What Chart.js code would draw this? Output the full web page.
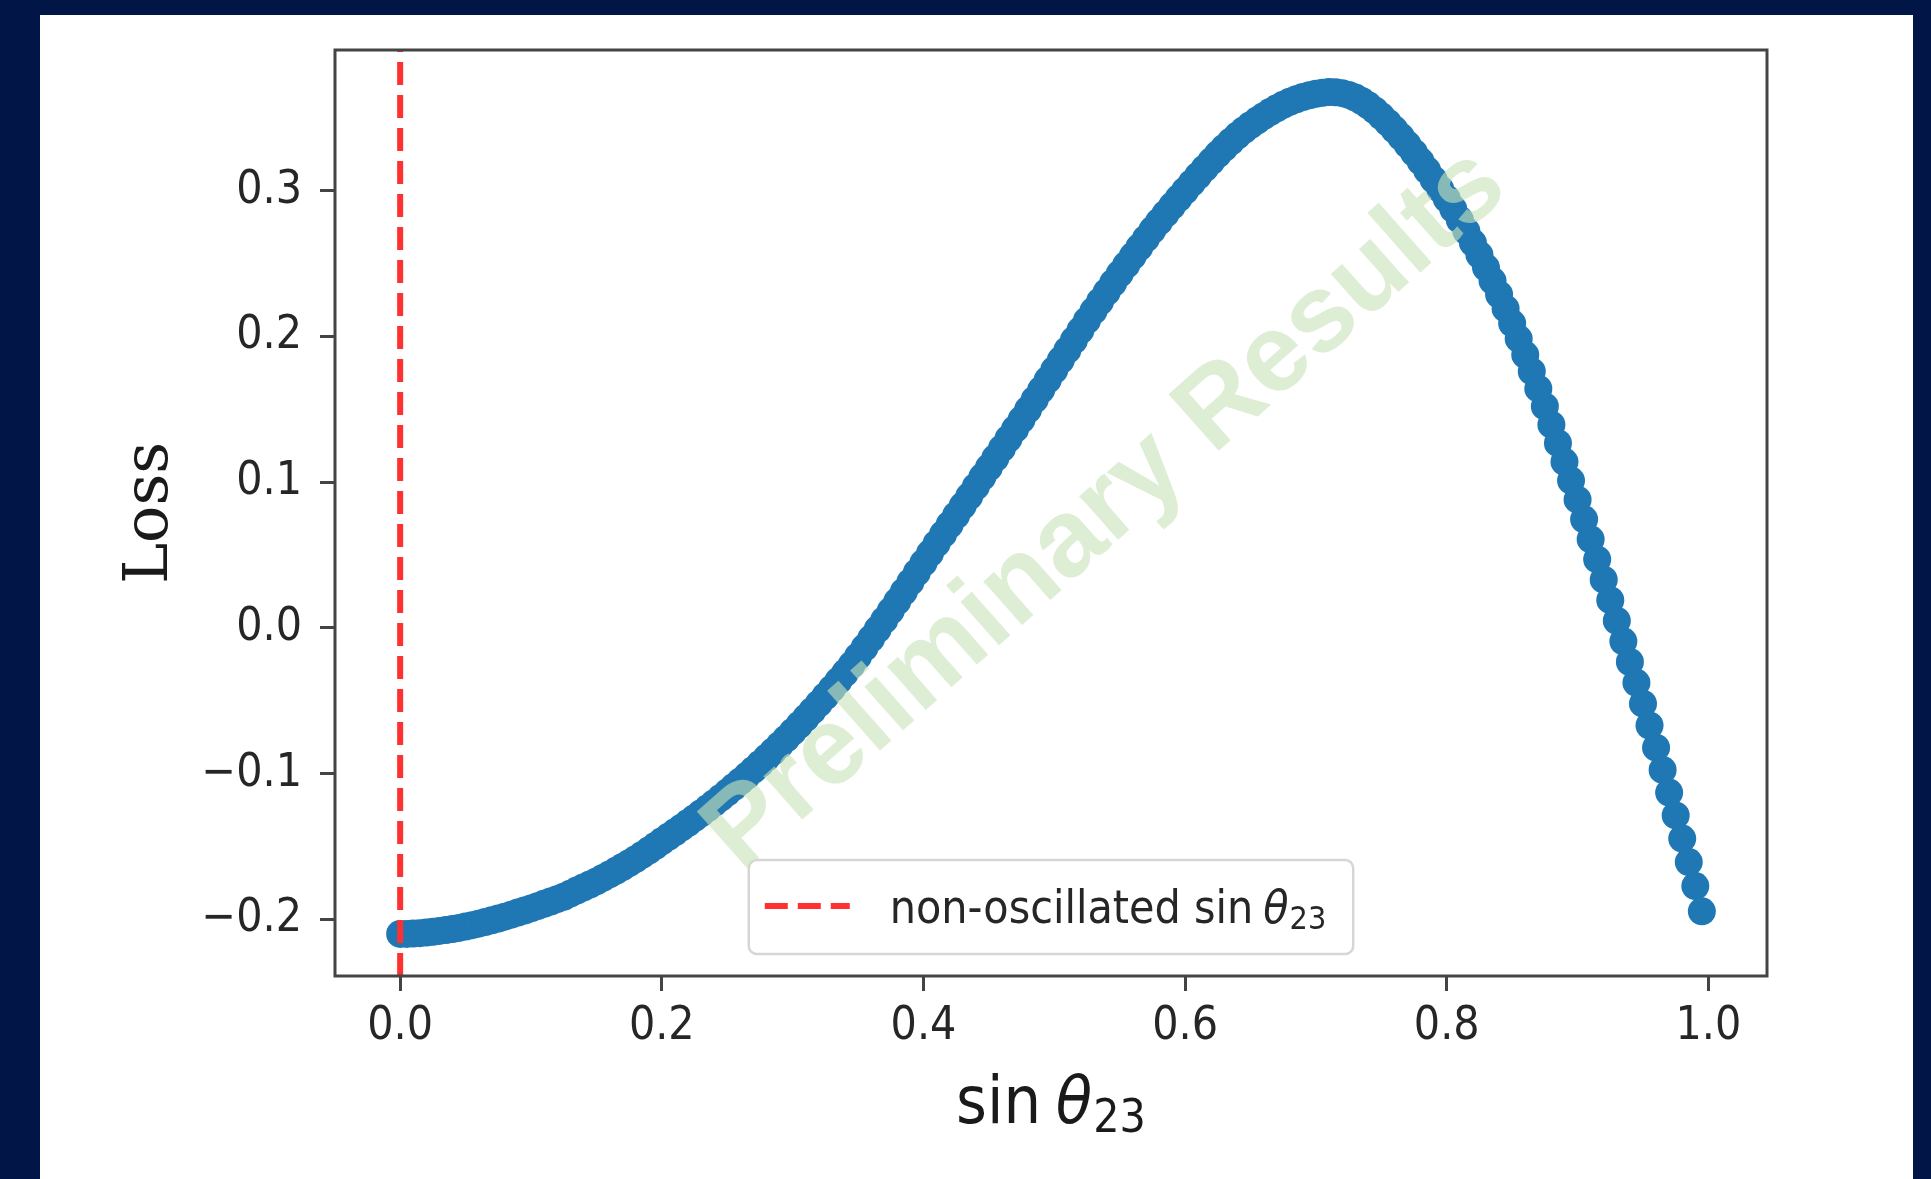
<!DOCTYPE html>
<html>
<head>
<meta charset="utf-8">
<title>Loss vs sin θ23</title>
<script src="https://cdn.jsdelivr.net/npm/chart.js@4.4.1/dist/chart.umd.min.js"></script>
<style>
    html, body { margin: 0; padding: 0; width: 1931px; height: 1179px; overflow: hidden; background: #021547; }
    #panel { position: absolute; left: 40px; top: 15px; width: 1873px; height: 1164px; background: #ffffff; }
</style>
</head>
<body>
<div id="panel"><canvas id="lossChart" width="1873" height="1164"></canvas></div>
<script>
// sampling grid of sin(theta23): 0.000, 0.005, ... 0.995
const sinStart = 0;
const sinStep = 0.005;

// loss at each grid point, 10 per row
const lossValues = [
    -0.2100, -0.2100, -0.2098, -0.2095, -0.2091, -0.2086, -0.2080, -0.2074, -0.2067, -0.2059,
    -0.2050, -0.2040, -0.2030, -0.2019, -0.2007, -0.1995, -0.1982, -0.1968, -0.1954, -0.1940,
    -0.1925, -0.1910, -0.1894, -0.1878, -0.1862, -0.1845, -0.1824, -0.1803, -0.1782, -0.1761,
    -0.1740, -0.1716, -0.1692, -0.1667, -0.1641, -0.1615, -0.1587, -0.1558, -0.1528, -0.1497,
    -0.1465, -0.1434, -0.1403, -0.1371, -0.1339, -0.1306, -0.1272, -0.1238, -0.1203, -0.1167,
    -0.1130, -0.1092, -0.1054, -0.1015, -0.0975, -0.0934, -0.0892, -0.0849, -0.0805, -0.0760,
    -0.0714, -0.0667, -0.0619, -0.0570, -0.0520, -0.0469, -0.0417, -0.0364, -0.0310, -0.0255,
    -0.0196, -0.0135, -0.0073, -0.0010, 0.0053, 0.0117, 0.0182, 0.0248, 0.0314, 0.0380,
    0.0446, 0.0512, 0.0578, 0.0643, 0.0708, 0.0773, 0.0838, 0.0903, 0.0969, 0.1035,
    0.1100, 0.1166, 0.1232, 0.1298, 0.1364, 0.1430, 0.1498, 0.1566, 0.1634, 0.1702,
    0.1770, 0.1838, 0.1906, 0.1974, 0.2042, 0.2110, 0.2175, 0.2240, 0.2304, 0.2367,
    0.2430, 0.2491, 0.2552, 0.2612, 0.2671, 0.2730, 0.2786, 0.2841, 0.2895, 0.2948,
    0.3000, 0.3052, 0.3103, 0.3153, 0.3202, 0.3250, 0.3295, 0.3338, 0.3379, 0.3416,
    0.3450, 0.3482, 0.3512, 0.3540, 0.3566, 0.3590, 0.3610, 0.3628, 0.3643, 0.3655,
    0.3665, 0.3672, 0.3677, 0.3676, 0.3670, 0.3658, 0.3640, 0.3616, 0.3586, 0.3551,
    0.3511, 0.3467, 0.3420, 0.3370, 0.3317, 0.3261, 0.3202, 0.3140, 0.3076, 0.3011,
    0.2945, 0.2874, 0.2800, 0.2723, 0.2643, 0.2560, 0.2473, 0.2382, 0.2288, 0.2191,
    0.2090, 0.1984, 0.1874, 0.1760, 0.1642, 0.1520, 0.1395, 0.1268, 0.1140, 0.1011,
    0.0880, 0.0745, 0.0608, 0.0470, 0.0331, 0.0190, 0.0049, -0.0092, -0.0234, -0.0377,
    -0.0520, -0.0670, -0.0822, -0.0975, -0.1130, -0.1287, -0.1446, -0.1607, -0.1772, -0.1945
];

// non-oscillated value of sin(theta23)
const nonOscSin = 0;

const xTicks = [0.0, 0.2, 0.4, 0.6, 0.8, 1.0];
const yTicks = [-0.2, -0.1, 0.0, 0.1, 0.2, 0.3];
const xLimits = [-0.0498, 1.0448];
const yLimits = [-0.2389, 0.3966];

const legendLabel = 'non-oscillated ';
const watermarkText = 'Preliminary Results';

const sansFamily = "'DejaVu Sans Condensed', 'DejaVu Sans', sans-serif";
const textColor = '#262626';
const frameColor = '#444444';

let _points = new Array();
lossValues.forEach(function (loss, i) {
    _points.push({ x: +(sinStart + i * sinStep).toFixed(3), y: loss });
});

function formatTick(value) {
    return value.toFixed(1).replace('-', '\u2212');
}

// "sin θ_23" as three pieces: upright, italic, subscript
function mathParts(size) {
    return [
        { text: 'sin', font: size + 'px ' + sansFamily, gap: 0, shift: 0 },
        { text: '\u03b8', font: 'italic ' + size + 'px ' + sansFamily, gap: 0.22 * size, shift: 0 },
        { text: '23', font: Math.round(size * 0.7) + 'px ' + sansFamily, gap: 0.02 * size, shift: 0.14 * size }
    ];
}

function measureParts(ctx, parts) {
    let w = 0;
    parts.forEach(function (p) {
        ctx.font = p.font;
        w += p.gap + ctx.measureText(p.text).width;
    });
    return w;
}

function drawParts(ctx, parts, x, y) {
    parts.forEach(function (p) {
        ctx.font = p.font;
        x += p.gap;
        ctx.fillText(p.text, x, y + p.shift);
        x += ctx.measureText(p.text).width;
    });
}

// keep the plot box where the layout puts it, without label overhang
function fixAxis(size) {
    return function (scale) {
        if (scale.isHorizontal()) {
            scale.height = size;
        } else {
            scale.width = size;
        }
        scale.paddingTop = 0;
        scale.paddingBottom = 0;
        scale.paddingLeft = 0;
        scale.paddingRight = 0;
    };
}

const framePlugin = {
    id: 'frame',
    afterDatasetsDraw(chart) {
        const { ctx, chartArea: a, scales } = chart;
        ctx.save();
        // vertical dashed marker at the non-oscillated value
        const px = scales.x.getPixelForValue(nonOscSin);
        ctx.strokeStyle = '#ff3030';
        ctx.lineWidth = 6;
        ctx.setLineDash([23, 10]);
        ctx.beginPath();
        ctx.moveTo(px, a.bottom);
        ctx.lineTo(px, a.top);
        ctx.stroke();
        // axes box
        ctx.setLineDash([]);
        ctx.strokeStyle = frameColor;
        ctx.lineWidth = 3;
        ctx.strokeRect(a.left, a.top, a.right - a.left, a.bottom - a.top);
        ctx.restore();
    }
};

const labelsPlugin = {
    id: 'labels',
    afterDraw(chart) {
        const { ctx, chartArea: a } = chart;
        const cx = (a.left + a.right) / 2;
        ctx.save();
        ctx.fillStyle = '#1a1a1a';
        ctx.textBaseline = 'alphabetic';
        ctx.textAlign = 'left';

        // x axis label
        const titleParts = mathParts(66);
        const tw = measureParts(ctx, titleParts);
        drawParts(ctx, titleParts, cx - tw / 2, a.bottom + 147);

        // legend box, lower centre
        const legParts = mathParts(46);
        ctx.font = '46px ' + sansFamily;
        const lw = ctx.measureText(legendLabel).width + measureParts(ctx, legParts);
        const boxW = 16 + 85 + 40 + lw + 27;
        const boxH = 94;
        const bx = cx - boxW / 2;
        const by = a.bottom - 22 - boxH;
        ctx.beginPath();
        ctx.roundRect(bx, by, boxW, boxH, 8);
        ctx.fillStyle = 'rgba(255,255,255,0.8)';
        ctx.fill();
        ctx.strokeStyle = '#d6d6d6';
        ctx.lineWidth = 2.5;
        ctx.stroke();

        ctx.strokeStyle = '#ff3030';
        ctx.lineWidth = 6;
        ctx.setLineDash([23, 10]);
        ctx.beginPath();
        ctx.moveTo(bx + 16, by + 46);
        ctx.lineTo(bx + 101, by + 46);
        ctx.stroke();
        ctx.setLineDash([]);

        ctx.fillStyle = textColor;
        ctx.font = '46px ' + sansFamily;
        const tx = bx + 141;
        ctx.fillText(legendLabel, tx, by + 63);
        drawParts(ctx, legParts, tx + ctx.measureText(legendLabel).width, by + 63);

        // watermark across the plot
        ctx.translate(cx + 55, (a.top + a.bottom) / 2 - 3);
        ctx.rotate(-41.5 * Math.PI / 180);
        ctx.font = "bold 110px 'Liberation Sans', Arial, sans-serif";
        ctx.textAlign = 'center';
        ctx.textBaseline = 'middle';
        ctx.fillStyle = 'rgba(200,228,185,0.62)';
        ctx.fillText(watermarkText, 0, 0);
        ctx.restore();
    }
};

const tickFont = { family: sansFamily, size: 46 };

new Chart("lossChart", {
    type: 'scatter',
    data: {
        datasets: [{
            label: 'loss',
            data: _points,
            backgroundColor: '#1f77b4',
            borderWidth: 0,
            pointRadius: 14,
            pointHoverRadius: 14
        }]
    },
    options: {
        responsive: false,
        animation: false,
        devicePixelRatio: 1,
        layout: {
            padding: { top: 35, right: 146, left: 0, bottom: 0 }
        },
        plugins: {
            legend: { display: false },
            tooltip: { enabled: false }
        },
        scales: {
            x: {
                type: 'linear',
                min: xLimits[0],
                max: xLimits[1],
                afterFit: fixAxis(203),
                afterBuildTicks: function (scale) {
                    scale.ticks = xTicks.map(function (v) { return { value: v }; });
                },
                border: { display: false },
                grid: { drawOnChartArea: false, drawTicks: true, tickLength: 15, tickWidth: 3, tickColor: frameColor },
                ticks: { padding: 8, color: textColor, font: tickFont, maxRotation: 0, autoSkip: false, callback: formatTick }
            },
            y: {
                type: 'linear',
                min: yLimits[0],
                max: yLimits[1],
                afterFit: fixAxis(295),
                afterBuildTicks: function (scale) {
                    scale.ticks = yTicks.map(function (v) { return { value: v }; });
                },
                border: { display: false },
                grid: { drawOnChartArea: false, drawTicks: true, tickLength: 15, tickWidth: 3, tickColor: frameColor },
                ticks: { padding: 18, color: textColor, font: tickFont, autoSkip: false, callback: formatTick },
                title: {
                    display: true,
                    text: 'Loss',
                    color: '#1a1a1a',
                    font: { family: "'DejaVu Serif', serif", size: 62 },
                    padding: { top: 74, bottom: 0 }
                }
            }
        }
    },
    plugins: [framePlugin, labelsPlugin]
});
</script>
</body>
</html>
